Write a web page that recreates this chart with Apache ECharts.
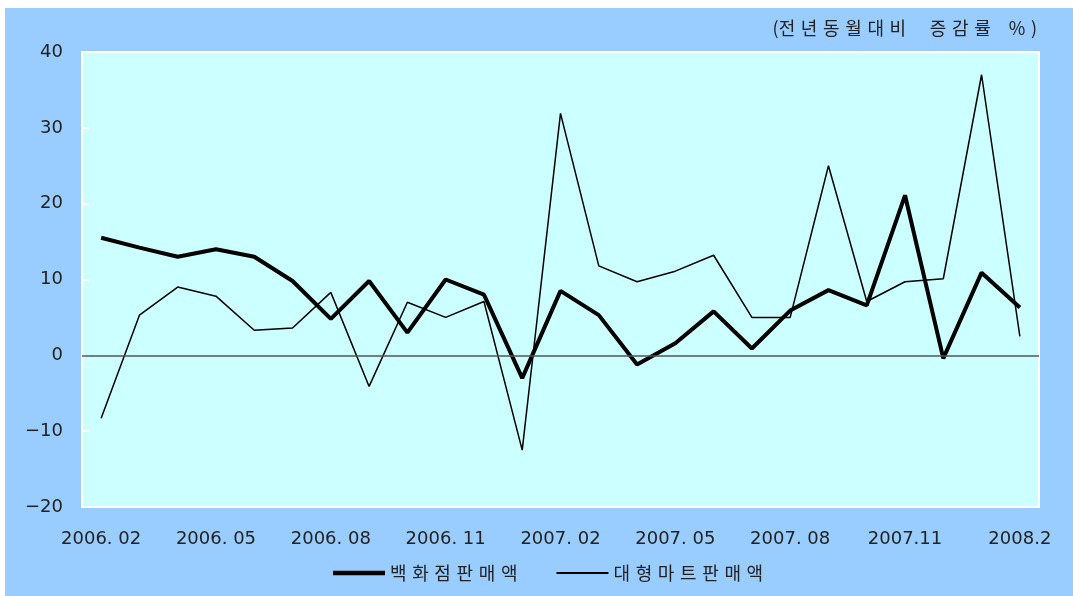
<!DOCTYPE html>
<html>
<head>
<meta charset="utf-8">
<script src="https://cdn.jsdelivr.net/npm/echarts@6/dist/echarts.min.js"></script>
<style>
	body { margin: 0; background: #fff; }
	#wrap { position: relative; width: 1073px; height: 596px; background: #fff; }
	#chart { position: absolute; left: 5px; top: 8px; width: 1068px; height: 588px; background: #99ccff; }
</style>
</head>
<body>
<div id="wrap"><div id="chart"></div></div>
<script>
	// 월별 (2006.02 ~ 2008.02)
	var months = ['2006.02', '2006.03', '2006.04', '2006.05', '2006.06', '2006.07', '2006.08', '2006.09', '2006.10',
		'2006.11', '2006.12', '2007.01', '2007.02', '2007.03', '2007.04', '2007.05', '2007.06', '2007.07',
		'2007.08', '2007.09', '2007.10', '2007.11', '2007.12', '2008.01', '2008.02'];
	var tickLabels = ['2006. 02', '2006. 05', '2006. 08', '2006. 11', '2007. 02', '2007. 05', '2007. 08', '2007.11', '2008.2'];
	var deptStore = [15.5, 14.2, 13.0, 14.0, 13.0, 9.8, 4.8, 9.8, 3.0, 10.0, 8.0, -3.0, 8.5, 5.3, -1.2, 1.6, 5.8, 0.9,
		5.9, 8.6, 6.6, 21.1, -0.4, 10.9, 6.3];
	var bigMart = [-8.3, 5.3, 9.0, 7.8, 3.3, 3.6, 8.3, -4.1, 7.0, 5.0, 7.1, -12.5, 31.9, 11.8, 9.7, 11.1, 13.2, 5.0,
		5.0, 25.0, 7.1, 9.7, 10.1, 37.0, 2.5];
	var yTicks = { min: -20, max: 40, interval: 10 };

	var font = "'DejaVu Sans', sans-serif";
	var krFont = "'Noto Sans CJK KR', 'DejaVu Sans', sans-serif";
	var gap = '\u2005\u200A';
	// 글자 사이 간격
	function spaced(s) {
		return s.split('').join(gap)
	}

	var chart = echarts.init(document.getElementById('chart'));
	var option = {
		animation: false,
		title: {
			text: '(' + spaced('전년동월대비') + gap + '\u3000' + spaced('증감률') + '\u3000%' + gap + ')',
			right: 31,
			top: 6,
			textStyle: {
				fontFamily: krFont,
				fontSize: 18,
				fontWeight: 'normal',
				color: '#222'
			}
		},
		legend: {
			left: 328,
			top: 556,
			padding: 0,
			itemWidth: 52,
			itemHeight: 14,
			itemGap: 39,
			formatter: function (name) {
				return spaced(name)
			},
			textStyle: {
				fontFamily: krFont,
				fontSize: 18,
				color: '#222'
			},
			data: [{
					name: '백화점판매액',
					icon: 'path://M0 0H52V4.5H0Z'
				},
				{
					name: '대형마트판매액',
					icon: 'path://M0 0H52V1.8H0Z'
				}
			]
		},
		grid: {
			left: 77,
			right: 34,
			top: 44,
			bottom: 89,
			show: true,
			backgroundColor: '#ccffff',
			borderColor: '#ffffff',
			borderWidth: 2
		},
		xAxis: {
			type: 'category',
			data: months,
			boundaryGap: true,
			axisLine: { show: false, onZero: false },
			axisTick: { show: false },
			axisLabel: {
				interval: 0,
				margin: 23,
				fontFamily: font,
				fontSize: 18,
				color: '#222',
				formatter: function (v, i) {
					return i % 3 === 0 ? tickLabels[i / 3] : ''
				}
			},
			splitLine: { show: false }
		},
		yAxis: {
			type: 'value',
			min: yTicks.min,
			max: yTicks.max,
			interval: yTicks.interval,
			axisLine: { show: false },
			axisTick: {
				show: true,
				inside: true,
				length: 7,
				lineStyle: { color: '#ffffff', width: 2 }
			},
			axisLabel: {
				margin: 19,
				fontFamily: font,
				fontSize: 18,
				color: '#222',
				formatter: function (v) {
					return v < 0 ? '\u2212' + Math.abs(v) : String(v)
				}
			},
			splitLine: { show: false }
		},
		series: [{
				name: '백화점판매액',
				type: 'line',
				symbol: 'none',
				lineStyle: { color: '#000', width: 4 },
				itemStyle: { color: '#000' },
				data: deptStore,
				z: 3,
				markLine: {
					silent: true,
					symbol: 'none',
					label: { show: false },
					lineStyle: { color: '#555', width: 1.5, type: 'solid' },
					data: [{ yAxis: 0 }]
				}
			},
			{
				name: '대형마트판매액',
				type: 'line',
				symbol: 'none',
				lineStyle: { color: '#000', width: 1.5 },
				itemStyle: { color: '#000' },
				data: bigMart,
				z: 2
			}
		]
	};
	chart.setOption(option);
</script>
</body>
</html>
